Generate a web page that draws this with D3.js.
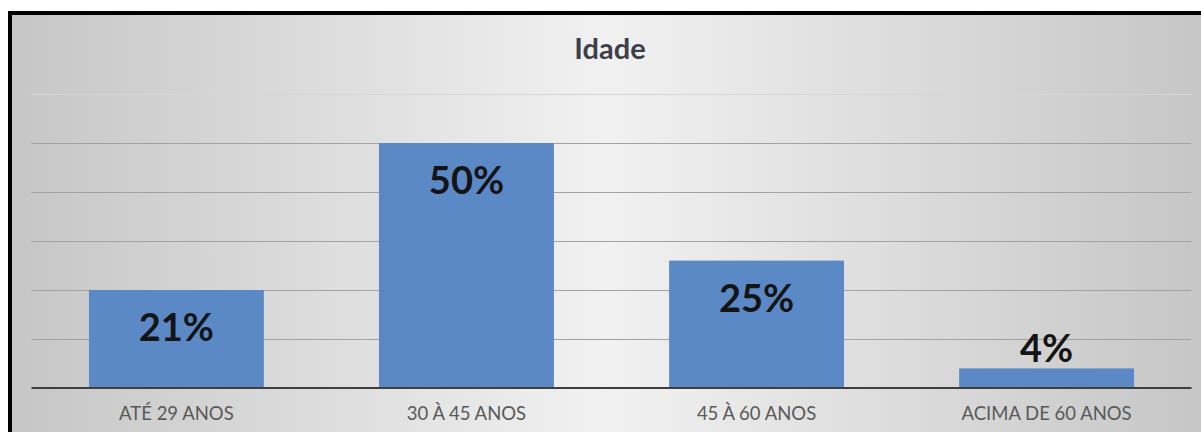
<!DOCTYPE html>
<html>
<head>
<meta charset="utf-8">
<script src="https://cdn.jsdelivr.net/npm/d3@7"></script>
<style>
    body { margin: 0; background: white; }
    .title { font-family: Lato, "Open Sans", sans-serif; font-weight: bold; }
    .bar-label { font-family: Lato, "Open Sans", sans-serif; font-weight: bold; }
    .cat-label { font-family: Lato, "Open Sans", sans-serif; }
</style>
</head>
<body>
<div id="viz"></div>
<script>
var width = 1201
var height = 432

// data
var categories = ["ATÉ 29 ANOS", "30 À 45 ANOS", "45 À 60 ANOS", "ACIMA DE 60 ANOS"];
var barValues = [20, 50, 26, 4];              // bar heights as drawn (%)
var barLabels = ["21%", "50%", "25%", "4%"];  // data labels as printed
var gridTicks = [0, 10, 20, 30, 40, 50, 60];
var chartTitle = "Idade";

var svg = d3
    .select("#viz")
    .append("svg")
    .attr("width", width)
    .attr("height", height);

// background gradient (grey edges, light centre)
var defs = svg.append("defs");
var grad = defs.append("linearGradient")
    .attr("id", "bg")
    .attr("x1", "0%").attr("x2", "100%")
    .attr("y1", "0%").attr("y2", "0%");
grad.append("stop").attr("offset", "0%").attr("stop-color", "#c6c6c6");
grad.append("stop").attr("offset", "50%").attr("stop-color", "#f1f1f1");
grad.append("stop").attr("offset", "100%").attr("stop-color", "#c6c6c6");

svg.append("rect")
    .attr("x", 12)
    .attr("y", 15)
    .attr("width", width - 12)
    .attr("height", height - 15)
    .attr("fill", "url(#bg)");

// black frame (top and left only are visible)
svg.append("rect")
    .attr("x", 8).attr("y", 11)
    .attr("width", width - 8).attr("height", 4)
    .attr("fill", "#000");
svg.append("rect")
    .attr("x", 8).attr("y", 11)
    .attr("width", 4).attr("height", height - 11)
    .attr("fill", "#000");

var x = d3.scaleBand()
    .domain(categories)
    .range([31.5, 1191.5])
    .paddingInner(0.397)
    .paddingOuter(0.198);

var y = d3.scaleLinear()
    .domain([0, 60])
    .range([388, 94]);

// gridlines
svg.append("g")
    .selectAll("line")
    .data(gridTicks.filter(function (t) { return t > 0; }))
    .enter()
    .append("line")
    .attr("x1", 31.5)
    .attr("x2", 1191.5)
    .attr("y1", function (d) { return Math.round(y(d)) + 0.5; })
    .attr("y2", function (d) { return Math.round(y(d)) + 0.5; })
    .attr("stroke", function (d) { return d == 60 ? "#d6d6d6" : "#a2a2a2"; })
    .attr("stroke-width", 1);

// bars
svg.append("g")
    .selectAll("rect")
    .data(barValues)
    .enter()
    .append("rect")
    .attr("x", function (d, i) { return x(categories[i]); })
    .attr("y", function (d) { return y(d); })
    .attr("width", x.bandwidth())
    .attr("height", function (d) { return y(0) - y(d); })
    .attr("fill", "#5a89c5");

// axis line
svg.append("line")
    .attr("x1", 31.5)
    .attr("x2", 1191.5)
    .attr("y1", y(0))
    .attr("y2", y(0))
    .attr("stroke", "#3f3f3f")
    .attr("stroke-width", 2);

// data labels: inside end, or above when the bar is too short
svg.append("g")
    .selectAll("text")
    .data(barValues)
    .enter()
    .append("text")
    .attr("class", "bar-label")
    .attr("x", function (d, i) { return x(categories[i]) + x.bandwidth() / 2; })
    .attr("y", function (d) {
        var top = y(d);
        return (y(0) - top) > 60 ? top + 51 : top - 6;
    })
    .attr("text-anchor", "middle")
    .attr("font-size", 38)
    .attr("fill", "#141414")
    .text(function (d, i) { return barLabels[i]; });

// category labels
svg.append("g")
    .selectAll("text")
    .data(categories)
    .enter()
    .append("text")
    .attr("class", "cat-label")
    .attr("x", function (d) { return x(d) + x.bandwidth() / 2; })
    .attr("y", 420)
    .attr("text-anchor", "middle")
    .attr("font-size", 18.5)
    .attr("fill", "#595959")
    .text(function (d) { return d; });

// title
svg.append("text")
    .attr("class", "title")
    .attr("x", 610)
    .attr("y", 59)
    .attr("text-anchor", "middle")
    .attr("font-size", 29)
    .attr("fill", "#3e4049")
    .text(chartTitle);
</script>
</body>
</html>
